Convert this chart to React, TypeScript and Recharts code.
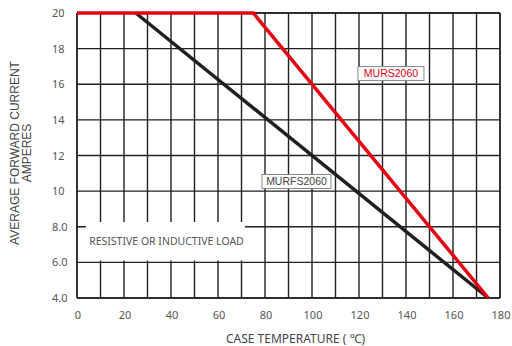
import React from "react";
import {
  LineChart,
  Line,
  XAxis,
  YAxis,
  CartesianGrid,
  ReferenceArea,
  ReferenceDot,
  ReferenceLine,
  Label,
} from "recharts";

// Series: derating curves (case temperature °C -> average forward current A)
const mursTemps = [0, 75, 175];
const mursAmps = [20, 20, 4];
const murfsTemps = [25, 175];
const murfsAmps = [20, 4];

const xTicks = [0, 10, 20, 30, 40, 50, 60, 70, 80, 90, 100, 110, 120, 130, 140, 150, 160, 170, 180];
const yTicks = [4, 6, 8, 10, 12, 14, 16, 18, 20];
const yTickLabels = ["4.0", "6.0", "8.0", "10", "12", "14", "16", "18", "20"];

const seriesNames = ["MURS2060", "MURFS2060"];
const noteText = "RESISTIVE OR INDUCTIVE LOAD";
const xTitle = "CASE TEMPERATURE ( ℃)";
const yTitle = ["AVERAGE FORWARD CURRENT", "AMPERES"];

// annotation anchors (data coordinates)
const mursLabelAt = { x: 133.6, y: 16.6 };
const murfsLabelAt = { x: 93.4, y: 10.54 };
const noteBox = { x1: 3.8, x2: 71.5, y1: 6.1, y2: 8.27 };

const mursData = mursTemps.map((t, i) => ({ t, a: mursAmps[i] }));
const murfsData = murfsTemps.map((t, i) => ({ t, a: murfsAmps[i] }));

const GRID = "#231f20";
const RED = "#e60012";
const TICK = "#555";
const FONT = "'Noto Sans', sans-serif";

const YTick = (props: any) => {
  const { y, payload } = props;
  const idx = yTicks.indexOf(payload.value);
  return (
    <text x={52} y={y + 4} fill={TICK} fontSize={11} fontFamily={FONT} textAnchor="start">
      {yTickLabels[idx]}
    </text>
  );
};

const XTick = (props: any) => {
  const { x, y, payload } = props;
  if (payload.value % 20 !== 0) return null;
  return (
    <text x={x + 1} y={y + 13} fill={TICK} fontSize={11} fontFamily={FONT} textAnchor="middle">
      {payload.value}
    </text>
  );
};

const boxLabel = (text: string, color: string, w: number) => (props: any) => {
  const { viewBox } = props;
  const cx = viewBox.x + (viewBox.width || 0) / 2;
  const cy = viewBox.y + (viewBox.height || 0) / 2;
  return (
    <g>
      <rect x={cx - w / 2} y={cy - 7} width={w} height={14} fill="#fff" stroke="#888" strokeWidth={1} />
      <text x={cx} y={cy + 3.8} fill={color} fontSize={10.5} fontFamily="'Liberation Sans', Arial, sans-serif" textAnchor="middle">
        {text}
      </text>
    </g>
  );
};

const YTitle = () => (
  <g>
    <text
      transform="translate(19,153) rotate(-90)"
      fill="#444"
      fontSize={12}
      fontFamily="'Liberation Sans', Arial, sans-serif"
      textAnchor="middle"
    >
      {yTitle[0]}
    </text>
    <text
      transform="translate(31,153) rotate(-90)"
      fill="#444"
      fontSize={12}
      fontFamily="'Liberation Sans', Arial, sans-serif"
      textAnchor="middle"
    >
      {yTitle[1]}
    </text>
  </g>
);

export default function App() {
  return (
    <div style={{ position: "absolute", left: 0, top: 0, width: 512, height: 346, background: "#fff" }}>
      <LineChart width={512} height={346} margin={{ top: 13, right: 12, left: 0, bottom: 0 }}>
        <CartesianGrid stroke={GRID} strokeWidth={1.4} />
        <XAxis
          type="number"
          dataKey="t"
          domain={[0, 180]}
          ticks={xTicks}
          interval={0}
          axisLine={false}
          tickLine={false}
          tick={<XTick />}
          height={48}
        >
          <Label
            value={xTitle}
            position="insideBottom"
            offset={0}
            content={(p: any) => (
              <text x={p.viewBox.x + p.viewBox.width / 2 + 7} y={343} fill="#444" fontSize={12} fontFamily={FONT} textAnchor="middle">
                {xTitle}
              </text>
            )}
          />
        </XAxis>
        <YAxis
          type="number"
          domain={[4, 20]}
          ticks={yTicks}
          interval={0}
          axisLine={false}
          tickLine={false}
          tick={<YTick />}
          width={77}
        >
          <Label content={() => <YTitle />} />
        </YAxis>
        <ReferenceLine x={0} stroke={GRID} strokeWidth={1.4} />
        <ReferenceLine x={180} stroke={GRID} strokeWidth={1.4} />
        <ReferenceLine y={4} stroke={GRID} strokeWidth={1.4} />
        <ReferenceLine y={20} stroke={GRID} strokeWidth={1.4} />
        <ReferenceArea
          x1={noteBox.x1}
          x2={noteBox.x2}
          y1={noteBox.y1}
          y2={noteBox.y2}
          fill="#fff"
          fillOpacity={1}
          stroke="none"
          label={(p: any) => (
            <text
              x={p.viewBox.x + p.viewBox.width / 2 + 1}
              y={p.viewBox.y + p.viewBox.height / 2 + 3.5}
              fill={TICK}
              fontSize={10.5}
              fontFamily={FONT}
              textAnchor="middle"
            >
              {noteText}
            </text>
          )}
        />
        <Line
          data={murfsData}
          dataKey="a"
          stroke={GRID}
          strokeWidth={3.5}
          dot={false}
          isAnimationActive={false}
          name={seriesNames[1]}
        />
        <Line
          data={mursData}
          dataKey="a"
          stroke={RED}
          strokeWidth={3.5}
          dot={false}
          isAnimationActive={false}
          name={seriesNames[0]}
        />
        <ReferenceDot x={mursLabelAt.x} y={mursLabelAt.y} r={0} stroke="none" label={boxLabel(seriesNames[0], RED, 66)} />
        <ReferenceDot x={murfsLabelAt.x} y={murfsLabelAt.y} r={0} stroke="none" label={boxLabel(seriesNames[1], "#444", 69)} />
      </LineChart>
    </div>
  );
}
